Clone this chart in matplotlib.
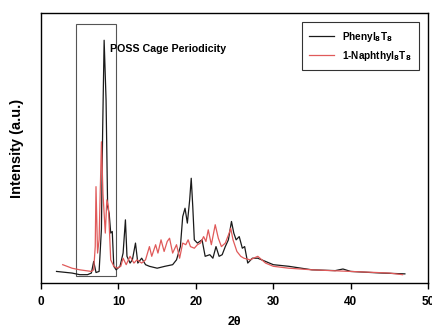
import matplotlib
matplotlib.use("Agg")
import matplotlib.pyplot as plt
from matplotlib.patches import Rectangle

plt.rcParams["font.family"] = ["Liberation Sans", "DejaVu Sans"]
plt.rcParams["font.weight"] = "bold"

# Phenyl8T8 pattern (2-theta, intensity a.u.)
phenyl_x = [2.0, 3.0, 4.0, 5.0, 6.0, 6.5, 6.8, 7.1, 7.5, 7.8, 7.95, 8.15, 8.4, 8.6,
            8.8, 9.0, 9.2, 9.4, 9.7, 10.2, 10.6, 10.9, 11.1, 11.5, 11.8, 12.2,
            12.5, 13.0, 13.5, 14.0, 15.0, 16.0, 17.0, 17.5, 18.0, 18.3, 18.6,
            18.9, 19.2, 19.4, 19.6, 19.8, 20.2, 20.8, 21.2, 21.8, 22.2, 22.6,
            23.0, 23.4, 23.8, 24.2, 24.6, 24.9, 25.2, 25.6, 26.0, 26.3, 26.7,
            27.3, 28.0, 29.0, 30.0, 32.0, 35.0, 38.0, 39.0, 40.0, 44.0, 47.0]
phenyl_y = [4.3, 4.0, 3.7, 3.1, 3.1, 3.7, 8.0, 3.9, 4.3, 20.0, 55.0, 89.9, 67.7,
            28.3, 25.8, 18.5, 19.1, 6.2, 4.9, 6.2, 11.1, 23.4, 9.9, 7.4, 8.6,
            14.8, 7.4, 9.2, 6.8, 6.2, 5.5, 6.2, 6.8, 8.6, 13.5, 24.6, 27.7, 22.2,
            30.8, 38.8, 28.3, 16.0, 14.8, 16.0, 9.9, 10.5, 9.2, 13.5, 9.9, 10.5,
            13.5, 16.0, 22.8, 18.5, 16.0, 17.2, 12.9, 13.5, 7.4, 9.2, 9.2, 8.0,
            6.8, 6.2, 4.9, 4.6, 5.2, 4.3, 3.7, 3.4]

# 1-Naphthyl8T8 pattern
naph_x = [2.8, 4.0, 5.0, 6.5, 6.8, 7.0, 7.1, 7.3, 7.5, 7.8, 8.0, 8.3, 8.5, 8.7,
          9.0, 9.4, 9.8, 10.3, 10.6, 11.0, 11.5, 12.0, 12.4, 13.0, 13.5, 14.0,
          14.3, 14.8, 15.1, 15.5, 15.9, 16.3, 16.6, 17.0, 17.5, 17.9, 18.3,
          18.7, 19.0, 19.3, 19.8, 20.2, 20.6, 21.0, 21.3, 21.6, 22.0, 22.5,
          22.9, 23.3, 23.8, 24.3, 24.5, 24.8, 25.3, 25.8, 26.2, 27.0, 28.0,
          29.0, 30.0, 32.0, 35.0, 40.0, 45.0, 46.7]
naph_y = [6.8, 5.5, 4.9, 4.3, 4.9, 13.5, 35.7, 11.1, 16.0, 52.3, 33.0, 18.5,
          30.8, 28.3, 8.6, 6.2, 5.5, 6.2, 9.2, 6.8, 9.9, 7.4, 8.6, 7.4, 8.6,
          13.5, 9.9, 14.2, 11.1, 16.0, 11.7, 15.4, 16.6, 11.1, 14.2, 9.2, 14.8,
          14.2, 16.0, 13.5, 12.9, 14.2, 14.8, 17.2, 15.4, 19.7, 14.2, 21.6,
          16.6, 13.5, 14.8, 18.5, 20.3, 16.0, 11.7, 9.9, 9.2, 8.6, 9.9, 7.4,
          6.2, 5.5, 4.9, 4.3, 3.7, 3.1]

x_ticks = [0, 10, 20, 30, 40, 50]

fig = plt.figure(figsize=(4.32, 3.33), dpi=100)
ax = fig.add_axes([0.095, 0.150, 0.896, 0.811])

ax.plot(phenyl_x, phenyl_y, color="#1a1a1a", lw=0.9, label="Phenyl$_8$T$_8$")
ax.plot(naph_x, naph_y, color="#e05a5a", lw=0.9, label="1-Naphthyl$_8$T$_8$")

ax.add_patch(Rectangle((4.53, 2.5), 5.1, 93.6, fill=False, edgecolor="#555555", lw=0.8))
ax.text(8.85, 86.8, "POSS Cage Periodicity", fontsize=7.7, fontweight="bold",
        va="center", ha="left")

ax.set_xlim(0, 50)
ax.set_ylim(0, 100)
ax.set_xticks(x_ticks)
ax.set_yticks([])
ax.tick_params(axis="x", direction="out", length=4, width=1, labelsize=8.5, pad=5)
for s in ax.spines.values():
    s.set_linewidth(1.0)
ax.set_xlabel("2θ", fontsize=9, fontweight="bold", labelpad=6)
ax.set_ylabel("Intensity (a.u.)", fontsize=10.5, fontweight="bold", labelpad=12)

leg = ax.legend(loc="upper right", fontsize=7.2, frameon=True, fancybox=False,
                edgecolor="black", handlelength=2.5, borderpad=0.75,
                bbox_to_anchor=(0.99, 0.985))
leg.get_frame().set_linewidth(0.8)

fig.savefig("out.png", dpi=100)
